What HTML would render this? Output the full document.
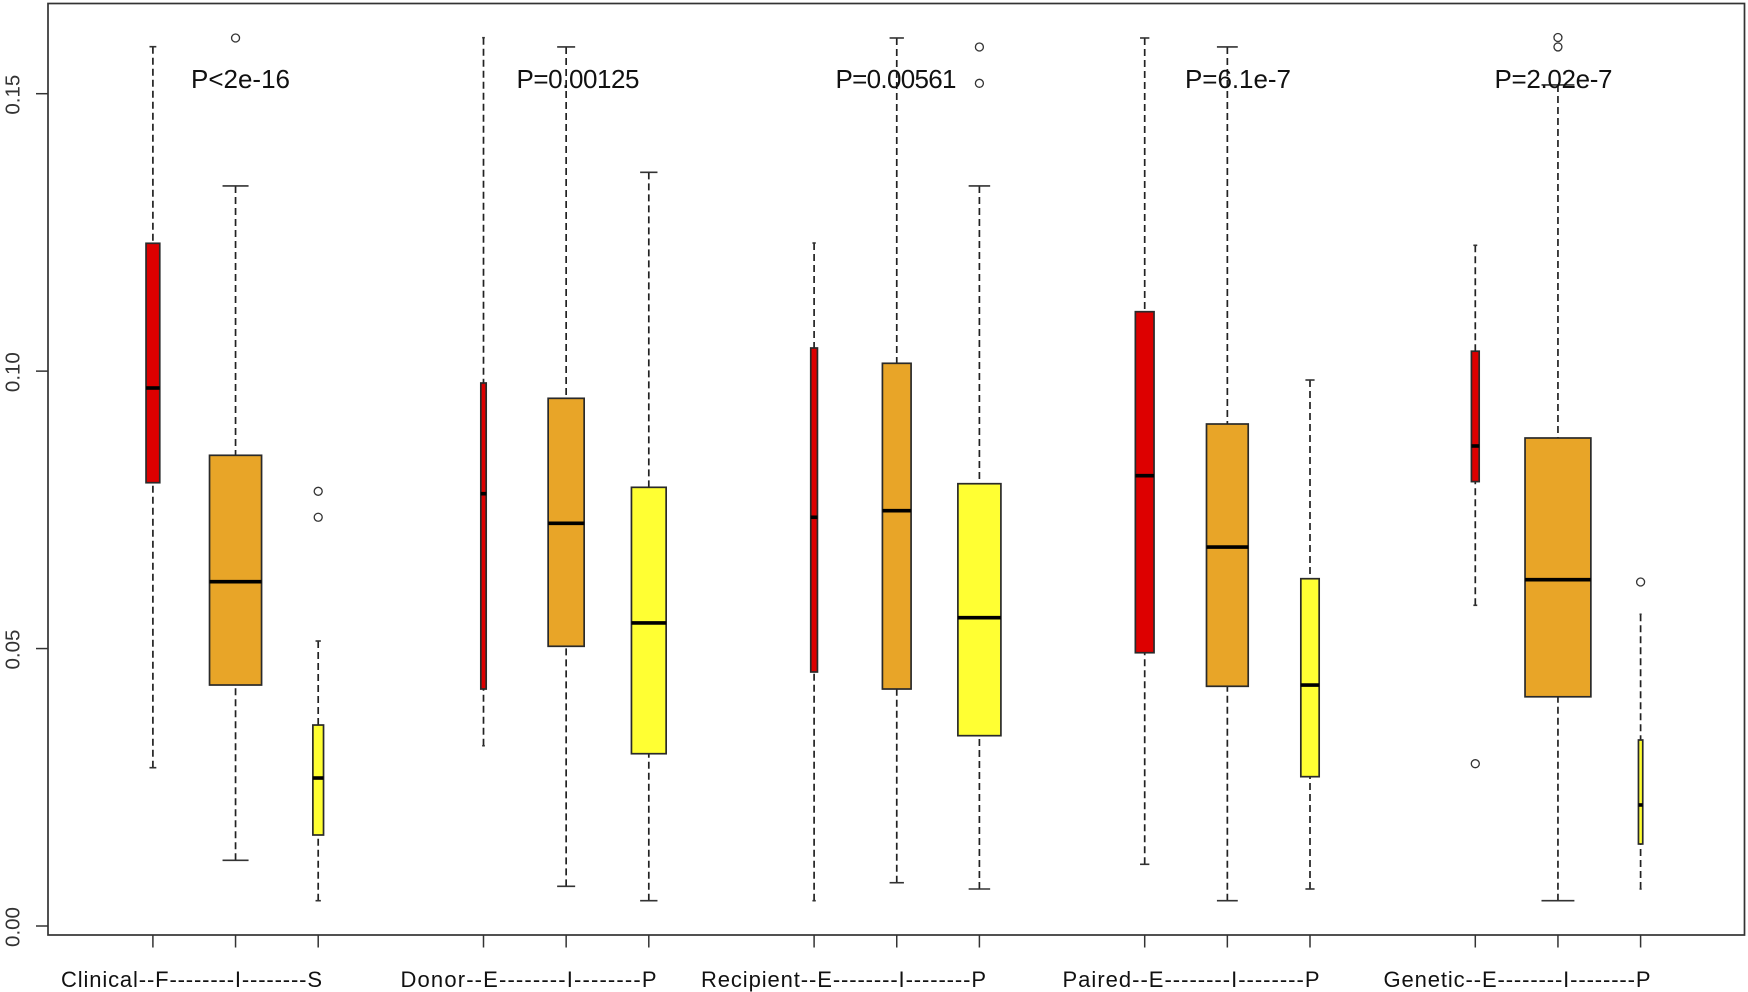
<!DOCTYPE html>
<html lang="en">
<head>
<meta charset="utf-8">
<title>Boxplot of five signatures</title>
<style>
html,body{margin:0;padding:0;background:#fff;}
body{width:1748px;height:992px;overflow:hidden;}
svg{display:block;}
text{font-family:"Liberation Sans",sans-serif;fill:#111;}
.p{font-size:26px;}
.x{font-size:22px;}
.y{font-size:20.5px;fill:#333;}
</style>
</head>
<body>
<svg id="chart" width="1748" height="992" viewBox="0 0 1748 992" xmlns="http://www.w3.org/2000/svg">
  <rect x="0" y="0" width="1748" height="992" fill="#fff"/>
  <g id="marks"></g>
  <rect x="48" y="3.5" width="1696.5" height="931.5" fill="none" stroke="#333" stroke-width="1.7"/>
  <g id="axes"></g>
  <g>
    <text class="p" x="191" y="88" textLength="99" lengthAdjust="spacing">P&lt;2e-16</text>
    <text class="p" x="516.5" y="88" textLength="123" lengthAdjust="spacing">P=0.00125</text>
    <text class="p" x="835.5" y="88" textLength="121" lengthAdjust="spacing">P=0.00561</text>
    <text class="p" x="1185" y="88" textLength="106" lengthAdjust="spacing">P=6.1e-7</text>
    <text class="p" x="1494.5" y="88" textLength="118" lengthAdjust="spacing">P=2.02e-7</text>
  </g>
  <g>
    <text class="x" x="61" y="987" textLength="261" lengthAdjust="spacing">Clinical--F--------I--------S</text>
    <text class="x" x="400.5" y="987" textLength="256" lengthAdjust="spacing">Donor--E--------I--------P</text>
    <text class="x" x="701" y="987" textLength="285" lengthAdjust="spacing">Recipient--E--------I--------P</text>
    <text class="x" x="1062.5" y="987" textLength="257" lengthAdjust="spacing">Paired--E--------I--------P</text>
    <text class="x" x="1383.5" y="987" textLength="267" lengthAdjust="spacing">Genetic--E--------I--------P</text>
  </g>
</svg>
<script>
// Data, one entry per box, left to right.
const categories = ["Clinical-F","Clinical-I","Clinical-S","Donor-E","Donor-I","Donor-P","Recipient-E","Recipient-I","Recipient-P","Paired-E","Paired-I","Paired-P","Genetic-E","Genetic-I","Genetic-P"];
const boxGroups = ["E","I","P","E","I","P","E","I","P","E","I","P","E","I","P"];
const whiskerHigh = [0.15847,0.13337,0.05136,0.16009,0.15842,0.13583,0.12309,0.16004,0.13337,0.16004,0.15842,0.09840,0.12268,0.15157,0.05618];
const thirdQuartile = [0.12304,0.08483,0.03622,0.09786,0.09510,0.07906,0.10417,0.10141,0.07971,0.11071,0.09047,0.06259,0.10359,0.08795,0.03352];
const medians = [0.09696,0.06205,0.02667,0.07791,0.07258,0.05461,0.07366,0.07485,0.05556,0.08115,0.06830,0.04343,0.08651,0.06241,0.02181];
const firstQuartile = [0.07989,0.04343,0.01640,0.04271,0.05041,0.03105,0.04578,0.04271,0.03430,0.04925,0.04320,0.02691,0.08009,0.04131,0.01478];
const whiskerLow = [0.02853,0.01184,0.00456,0.03249,0.00715,0.00456,0.00456,0.00780,0.00667,0.01112,0.00456,0.00667,0.05780,0.00456,0.00667];
const outliers = [[],[0.16004],[0.07834,0.07366],[],[],[],[],[],[0.15842,0.15187],[],[],[],[0.02925],[0.16013,0.15843],[0.06200]];
// Relative box width per box (varwidth style), in x-axis units.
const relativeWidths = [0.166,0.630,0.129,0.065,0.436,0.420,0.081,0.347,0.521,0.226,0.505,0.222,0.094,0.797,0.052];
const yTickValues = [0,0.05,0.10,0.15];
const yTickLabels = ["0.00","0.05","0.10","0.15"];

const NS = "http://www.w3.org/2000/svg";
const palette = {E:"#DD0000",I:"#E8A528",P:"#FFFF33"};
const yScale = v => 926 - v * 5548.7;
const xScale = pos => 152.9 + (pos - 1) * 82.65;
const boxPosition = i => 1 + i + Math.floor(i / 3);
const widthScale = u => u * 82.6;

function make(parent, tag, attrs){
  const el = document.createElementNS(NS, tag);
  for (const k in attrs) el.setAttribute(k, attrs[k]);
  parent.appendChild(el);
  return el;
}

const marks = document.getElementById("marks");
const axes = document.getElementById("axes");

categories.forEach((cat, i) => {
  const slug = cat.toLowerCase();
  const cx = xScale(boxPosition(i));
  const w = widthScale(relativeWidths[i]);
  const capW = w / 2;
  const g = make(marks, "g", {});
  
  

  const upper = make(g, "line", {x1:cx,x2:cx,y1:yScale(whiskerHigh[i]),y2:yScale(thirdQuartile[i]),stroke:"#222","stroke-width":1.7,"stroke-dasharray":"7 4"});
  
  

  const lower = make(g, "line", {x1:cx,x2:cx,y1:yScale(whiskerLow[i]),y2:yScale(firstQuartile[i]),stroke:"#222","stroke-width":1.7,"stroke-dasharray":"7 4"});
  
  

  const capHigh = make(g, "line", {x1:cx-capW/2,x2:cx+capW/2,y1:yScale(whiskerHigh[i]),y2:yScale(whiskerHigh[i]),stroke:"#333","stroke-width":1.6});
  
  

  const capLow = make(g, "line", {x1:cx-capW/2,x2:cx+capW/2,y1:yScale(whiskerLow[i]),y2:yScale(whiskerLow[i]),stroke:"#333","stroke-width":1.6});
  
  

  const rect = make(g, "rect", {x:cx-w/2,y:yScale(thirdQuartile[i]),width:w,height:yScale(firstQuartile[i])-yScale(thirdQuartile[i]),fill:palette[boxGroups[i]],stroke:"#2a2a2a","stroke-width":1.7});
  
  

  const med = make(g, "line", {x1:cx-w/2,x2:cx+w/2,y1:yScale(medians[i]),y2:yScale(medians[i]),stroke:"#000","stroke-width":3.6});
  
  

  outliers[i].forEach(v => {
    const dot = make(g, "circle", {cx:cx,cy:yScale(v),r:4,fill:"none",stroke:"#333","stroke-width":1.3});
    
    
  });

  const tick = make(axes, "line", {x1:cx,x2:cx,y1:935,y2:947.5,stroke:"#333","stroke-width":1.5});
  
  
});

yTickValues.forEach((v, i) => {
  const y = yScale(v);
  const tick = make(axes, "line", {x1:36,x2:48,y1:y,y2:y,stroke:"#333","stroke-width":1.5});
  
  
  const label = make(axes, "text", {class:"y",x:0,y:0,"text-anchor":"middle",transform:"translate(19.5 " + (y + 1) + ") rotate(-90)"});
  
  
  label.textContent = yTickLabels[i];
});
</script>
</body>
</html>
